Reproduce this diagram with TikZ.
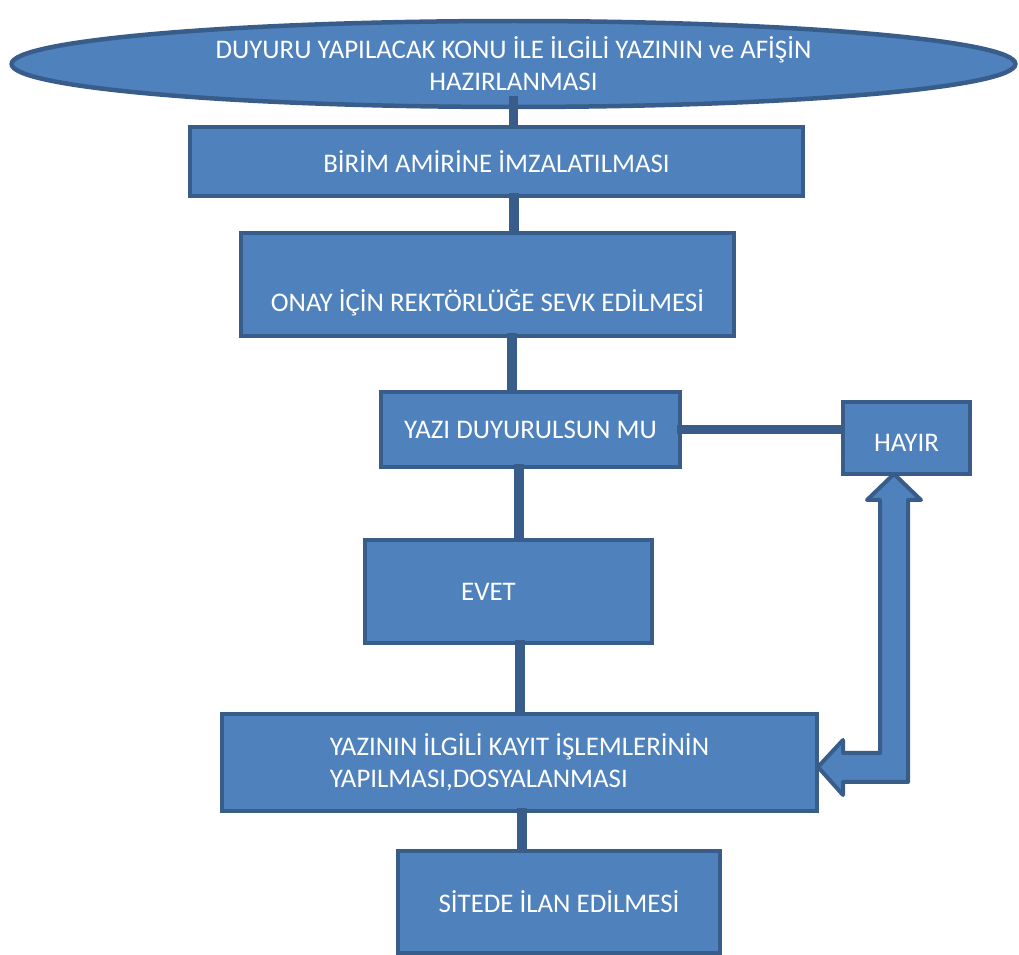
\documentclass[tikz,border=0pt]{standalone}
\usepackage{fontspec}
\setmainfont{Carlito}
\usetikzlibrary{shapes.geometric, arrows.meta}
\definecolor{ofBlue}{HTML}{4F81BD}
\definecolor{ofEdge}{HTML}{385D8A}

\begin{document}
\begin{tikzpicture}[x=0.02cm, y=-0.02cm,
  font=\fontsize{15.3}{18.2}\selectfont,
  fbox/.style={draw=ofEdge, fill=ofBlue, line width=0.09cm, text=white,
               align=center, inner sep=0pt},
  fell/.style={fbox, ellipse},
  conn/.style={draw=ofEdge, line width=0.19cm},
  barrow/.style={draw=ofEdge, fill=ofBlue, line width=0.08cm, line join=round},
]
\useasboundingbox (0,0) rectangle (1019,955);

\node[fell, minimum width=20.08cm, minimum height=1.72cm] (duyuru) at (513.5,64)
  {DUYURU YAPILACAK KONU İLE İLGİLİ YAZININ ve AFİŞİN\\HAZIRLANMASI};
\node[fbox, minimum width=12.26cm, minimum height=1.38cm] (birim) at (496.5,161.5)
  {BİRİM AMİRİNE İMZALATILMASI};
\node[fbox, minimum width=9.86cm, minimum height=2.06cm,
  label={[text=white, yshift=-0.36cm]center:ONAY İÇİN REKTÖRLÜĞE SEVK EDİLMESİ}] (onay) at (487.5,284.5) {};
\node[fbox, minimum width=5.98cm, minimum height=1.5cm] (yazi) at (530.5,429.5)
  {YAZI DUYURULSUN MU};
\node[fbox, minimum width=2.54cm, minimum height=1.44cm,
  label={[text=white, yshift=-0.1cm]center:HAYIR}] (hayir) at (906.5,438) {};
\node[fbox, minimum width=5.74cm, minimum height=2.06cm,
  label={[text=white, xshift=-0.4cm]center:EVET}] (evet) at (508.5,591.5) {};
\node[fbox, minimum width=11.9cm, minimum height=1.94cm, align=left] (kayit) at (519.5,762.5)
  {YAZININ İLGİLİ KAYIT İŞLEMLERİNİN\\YAPILMASI,DOSYALANMASI};
\node[fbox, minimum width=6.44cm, minimum height=2.04cm] (site) at (559,902)
  {SİTEDE İLAN EDİLMESİ};

\draw[conn] ([yshift=0.26cm]duyuru.south) -- (duyuru.south |- birim.north);
\draw[conn] ([xshift=0.35cm, yshift=0.1cm]birim.south) -- ([xshift=0.35cm]birim.south |- onay.north);
\draw[conn] ([xshift=0.49cm, yshift=0.1cm]onay.south) -- ([xshift=0.49cm]onay.south |- yazi.north);
\draw[conn] ([xshift=-0.23cm, yshift=0.1cm]yazi.south) -- ([xshift=-0.23cm]yazi.south |- evet.north);
\draw[conn] ([xshift=0.23cm, yshift=0.1cm]evet.south) -- ([xshift=0.23cm]evet.south |- kayit.north);
\draw[conn] ([xshift=0.05cm, yshift=0.1cm]kayit.south) -- ([xshift=0.05cm]kayit.south |- site.north);
\draw[conn] ([xshift=-0.1cm]yazi.east) -- (yazi.east -| hayir.west);

\draw[barrow] (894,474) -- (921,500) -- (908,500) -- (908,782) -- (843,782) -- (843,795)
  -- (818,767) -- (843,740) -- (843,753) -- (880,753) -- (880,500) -- (867,500) -- cycle;
\end{tikzpicture}
\end{document}
